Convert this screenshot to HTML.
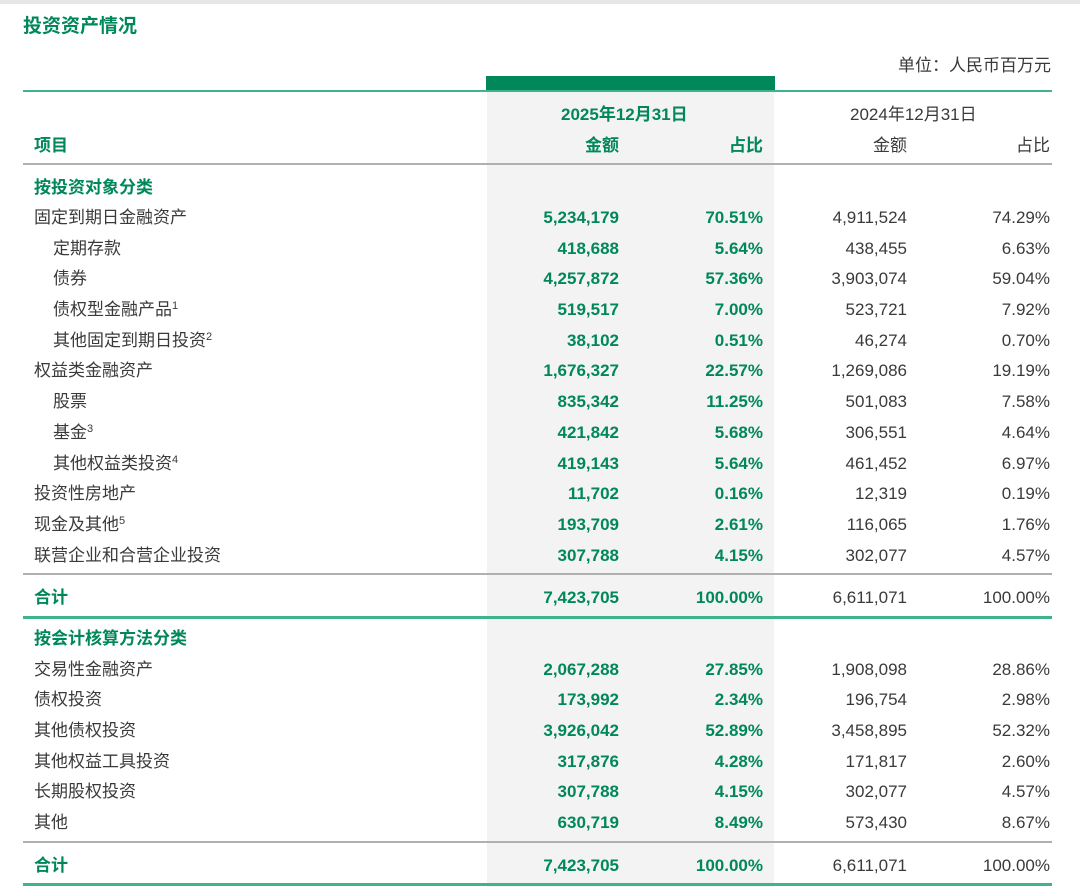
<!DOCTYPE html>
<html><head><meta charset="utf-8"><style>
body{margin:0;width:1080px;height:887px;background:#fff;position:relative;overflow:hidden;font-family:"Liberation Sans","Noto Sans CJK SC",sans-serif;font-size:17px;color:#3a3a3a}
.a{position:absolute}
.r{position:absolute;left:0;width:1080px;height:24px;line-height:24px;margin-top:2px}
.r span{position:absolute;white-space:nowrap}
.l{left:34px}.l2{left:53px}
.c1{right:461px}.c2{right:317px}.c3{right:173px}.c4{right:30px}
.g{color:#00875a;font-weight:bold}
sup{font-size:11px;vertical-align:6px;line-height:0}
</style></head><body>
<div class="a" style="left:0;top:0;width:1080px;height:4px;background:#e6e6e6"></div>
<div class="a g" style="left:23px;top:11px;font-size:19px">投资资产情况</div>
<div class="a" style="right:29px;top:51px;font-size:17px">单位：人民币百万元</div>
<div class="a" style="left:487px;top:91px;width:287px;height:796px;background:#f3f3f3"></div>
<div class="a" style="left:486px;top:76px;width:289px;height:15px;background:#00875a"></div>
<div class="a" style="left:23px;top:90px;width:1029px;height:2px;background:#3fb38a"></div>
<div class="a" style="left:23px;top:163px;width:1029px;height:2px;background:#b0b0b0"></div>
<div class="a" style="left:23px;top:573px;width:1029px;height:2px;background:#b0b0b0"></div>
<div class="a" style="left:23px;top:616px;width:1029px;height:3px;background:#3fb38a"></div>
<div class="a" style="left:23px;top:841px;width:1029px;height:2px;background:#b0b0b0"></div>
<div class="a" style="left:23px;top:883px;width:1029px;height:3px;background:#3fb38a"></div>

<div class="r" style="top:101px"><span class="g" style="left:561px">2025年12月31日</span><span style="left:850px">2024年12月31日</span></div>
<div class="r" style="top:132px"><span class="l g">项目</span><span class="c1 g">金额</span><span class="c2 g">占比</span><span class="c3">金额</span><span class="c4">占比</span></div>

<div class="r" style="top:174px"><span class="l g">按投资对象分类</span></div>
<div class="r" style="top:204px"><span class="l">固定到期日金融资产</span><span class="c1 g">5,234,179</span><span class="c2 g">70.51%</span><span class="c3">4,911,524</span><span class="c4">74.29%</span></div>
<div class="r" style="top:235px"><span class="l2">定期存款</span><span class="c1 g">418,688</span><span class="c2 g">5.64%</span><span class="c3">438,455</span><span class="c4">6.63%</span></div>
<div class="r" style="top:265px"><span class="l2">债券</span><span class="c1 g">4,257,872</span><span class="c2 g">57.36%</span><span class="c3">3,903,074</span><span class="c4">59.04%</span></div>
<div class="r" style="top:296px"><span class="l2">债权型金融产品<sup>1</sup></span><span class="c1 g">519,517</span><span class="c2 g">7.00%</span><span class="c3">523,721</span><span class="c4">7.92%</span></div>
<div class="r" style="top:327px"><span class="l2">其他固定到期日投资<sup>2</sup></span><span class="c1 g">38,102</span><span class="c2 g">0.51%</span><span class="c3">46,274</span><span class="c4">0.70%</span></div>
<div class="r" style="top:357px"><span class="l">权益类金融资产</span><span class="c1 g">1,676,327</span><span class="c2 g">22.57%</span><span class="c3">1,269,086</span><span class="c4">19.19%</span></div>
<div class="r" style="top:388px"><span class="l2">股票</span><span class="c1 g">835,342</span><span class="c2 g">11.25%</span><span class="c3">501,083</span><span class="c4">7.58%</span></div>
<div class="r" style="top:419px"><span class="l2">基金<sup>3</sup></span><span class="c1 g">421,842</span><span class="c2 g">5.68%</span><span class="c3">306,551</span><span class="c4">4.64%</span></div>
<div class="r" style="top:450px"><span class="l2">其他权益类投资<sup>4</sup></span><span class="c1 g">419,143</span><span class="c2 g">5.64%</span><span class="c3">461,452</span><span class="c4">6.97%</span></div>
<div class="r" style="top:480px"><span class="l">投资性房地产</span><span class="c1 g">11,702</span><span class="c2 g">0.16%</span><span class="c3">12,319</span><span class="c4">0.19%</span></div>
<div class="r" style="top:511px"><span class="l">现金及其他<sup>5</sup></span><span class="c1 g">193,709</span><span class="c2 g">2.61%</span><span class="c3">116,065</span><span class="c4">1.76%</span></div>
<div class="r" style="top:542px"><span class="l">联营企业和合营企业投资</span><span class="c1 g">307,788</span><span class="c2 g">4.15%</span><span class="c3">302,077</span><span class="c4">4.57%</span></div>
<div class="r" style="top:584px"><span class="l g">合计</span><span class="c1 g">7,423,705</span><span class="c2 g">100.00%</span><span class="c3">6,611,071</span><span class="c4">100.00%</span></div>

<div class="r" style="top:625px"><span class="l g">按会计核算方法分类</span></div>
<div class="r" style="top:656px"><span class="l">交易性金融资产</span><span class="c1 g">2,067,288</span><span class="c2 g">27.85%</span><span class="c3">1,908,098</span><span class="c4">28.86%</span></div>
<div class="r" style="top:686px"><span class="l">债权投资</span><span class="c1 g">173,992</span><span class="c2 g">2.34%</span><span class="c3">196,754</span><span class="c4">2.98%</span></div>
<div class="r" style="top:717px"><span class="l">其他债权投资</span><span class="c1 g">3,926,042</span><span class="c2 g">52.89%</span><span class="c3">3,458,895</span><span class="c4">52.32%</span></div>
<div class="r" style="top:748px"><span class="l">其他权益工具投资</span><span class="c1 g">317,876</span><span class="c2 g">4.28%</span><span class="c3">171,817</span><span class="c4">2.60%</span></div>
<div class="r" style="top:778px"><span class="l">长期股权投资</span><span class="c1 g">307,788</span><span class="c2 g">4.15%</span><span class="c3">302,077</span><span class="c4">4.57%</span></div>
<div class="r" style="top:809px"><span class="l">其他</span><span class="c1 g">630,719</span><span class="c2 g">8.49%</span><span class="c3">573,430</span><span class="c4">8.67%</span></div>
<div class="r" style="top:852px"><span class="l g">合计</span><span class="c1 g">7,423,705</span><span class="c2 g">100.00%</span><span class="c3">6,611,071</span><span class="c4">100.00%</span></div>
</body></html>
